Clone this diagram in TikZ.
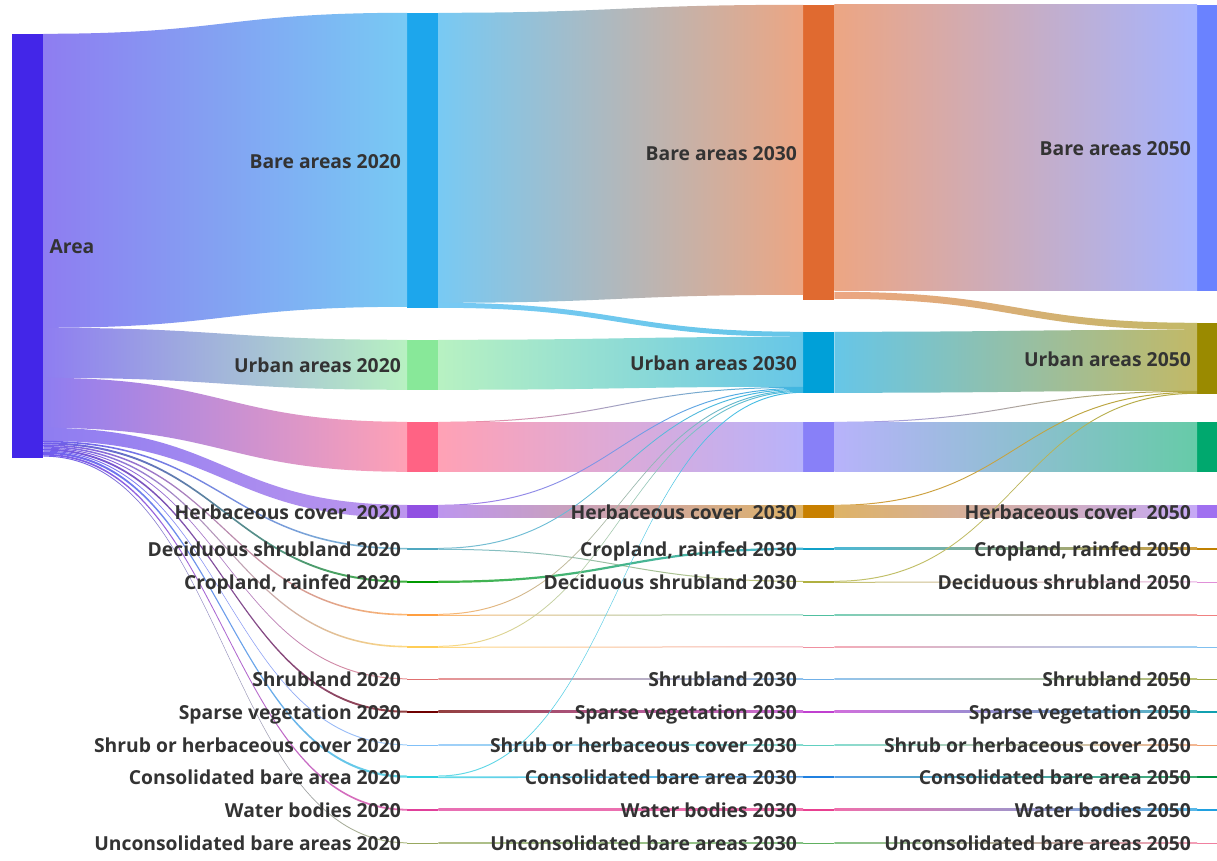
\documentclass[tikz,border=0pt]{standalone}
\usepackage{fontspec}
\setmainfont{Open Sans}
\usetikzlibrary{positioning,calc}

\definecolor{labelgray}{HTML}{333333}
\definecolor{cArea}{HTML}{4326E8}
\definecolor{cBare20}{HTML}{1DA6EC}
\definecolor{cUrb20}{HTML}{88E899}
\definecolor{cPnk20}{HTML}{FF6384}
\definecolor{cHrb20}{HTML}{9150E2}
\definecolor{cDec20}{HTML}{50A8C0}
\definecolor{cCrop20}{HTML}{009900}
\definecolor{cOrn20}{HTML}{FF9F40}
\definecolor{cYel20}{HTML}{FFCD56}
\definecolor{cShr20}{HTML}{E07070}
\definecolor{cSpa20}{HTML}{700000}
\definecolor{cShh20}{HTML}{80C0F8}
\definecolor{cCon20}{HTML}{30D0E0}
\definecolor{cWat20}{HTML}{E0409A}
\definecolor{cUnc20}{HTML}{98A860}
\definecolor{cBare30}{HTML}{E06A30}
\definecolor{cUrb30}{HTML}{00A0D8}
\definecolor{cVio30}{HTML}{8880F8}
\definecolor{cHrb30}{HTML}{C88000}
\definecolor{cCrop30}{HTML}{10A0C8}
\definecolor{cDec30}{HTML}{B0B040}
\definecolor{cTea30}{HTML}{50C0A0}
\definecolor{cRos30}{HTML}{F090A0}
\definecolor{cShr30}{HTML}{70B0E8}
\definecolor{cSpa30}{HTML}{C040D0}
\definecolor{cShh30}{HTML}{60D0C0}
\definecolor{cCon30}{HTML}{2080E0}
\definecolor{cWat30}{HTML}{E84090}
\definecolor{cUnc30}{HTML}{60B060}
\definecolor{cBare50}{HTML}{6A82FF}
\definecolor{cUrb50}{HTML}{9A8A00}
\definecolor{cGrn50}{HTML}{00A86E}
\definecolor{cHrb50}{HTML}{A070F0}
\definecolor{cCrop50}{HTML}{C08000}
\definecolor{cDec50}{HTML}{E090D8}
\definecolor{cSal50}{HTML}{F08080}
\definecolor{cSky50}{HTML}{80C0F0}
\definecolor{cShr50}{HTML}{A0A840}
\definecolor{cSpa50}{HTML}{10A0B0}
\definecolor{cShh50}{HTML}{F0A070}
\definecolor{cCon50}{HTML}{009040}
\definecolor{cWat50}{HTML}{20A0E0}
\definecolor{cUnc50}{HTML}{F080A0}

\tikzset{
  bar/.style={rectangle, inner sep=0pt, minimum width=31pt, anchor=west},
  endbar/.style={bar, minimum width=20pt},
  lbl/.style={font=\fontsize{19.3}{23}\selectfont\bfseries, text=labelgray, inner sep=0pt,
    text height=15.5pt, text depth=0pt},
}

% band from #2 (offset #3 below its top) to #4 (offset #5), width #6
\newcommand{\flowband}[8][60]{%
  \coordinate (fa) at ($(#2.north east)+(0,#3)$);
  \coordinate (fb) at ($(#4.north west)+(0,#5)$);
  \coordinate (fc) at ($(fb)+(0,#6)$);
  \coordinate (fd) at ($(fa)+(0,#6)$);
  \coordinate (fm) at ($(fa)!.5!(fb)$);
  \shade[left color=#7!#1!white, right color=#8!#1!white]
    (fa) .. controls (fm |- fa) and (fm |- fb) .. (fb)
    -- (fc) .. controls (fm |- fc) and (fm |- fd) .. (fd) -- cycle;
}

\begin{document}
\begin{tikzpicture}[x=1pt, y=-1pt]
\path[use as bounding box, fill=white] (0,0) rectangle (1217,861);

\path
  (12,246) node[bar, fill=cArea, minimum height=424pt] (area) {}
  (407,160.5) node[bar, fill=cBare20, minimum height=295pt] (bare20) {}
  (407,365) node[bar, fill=cUrb20, minimum height=50pt] (urb20) {}
  (407,447) node[bar, fill=cPnk20, minimum height=50pt] (pnk20) {}
  (407,511.5) node[bar, fill=cHrb20, minimum height=13pt] (hrb20) {}
  (407,549) node[bar, fill=cDec20, minimum height=2pt] (dec20) {}
  (407,582) node[bar, fill=cCrop20, minimum height=2.2pt] (crop20) {}
  (407,615) node[bar, fill=cOrn20, minimum height=2pt] (orn20) {}
  (407,647) node[bar, fill=cYel20, minimum height=2pt] (yel20) {}
  (407,679) node[bar, fill=cShr20, minimum height=1pt] (shr20) {}
  (407,712) node[bar, fill=cSpa20, minimum height=2.2pt] (spa20) {}
  (407,745) node[bar, fill=cShh20, minimum height=1pt] (shh20) {}
  (407,777) node[bar, fill=cCon20, minimum height=2.6pt] (con20) {}
  (407,810) node[bar, fill=cWat20, minimum height=2pt] (wat20) {}
  (407,843) node[bar, fill=cUnc20, minimum height=1pt] (unc20) {}
  (803,152.5) node[bar, fill=cBare30, minimum height=295pt] (bare30) {}
  (803,362.5) node[bar, fill=cUrb30, minimum height=61pt] (urb30) {}
  (803,447) node[bar, fill=cVio30, minimum height=50pt] (vio30) {}
  (803,511.5) node[bar, fill=cHrb30, minimum height=13pt] (hrb30) {}
  (803,549) node[bar, fill=cCrop30, minimum height=2.2pt] (crop30) {}
  (803,582) node[bar, fill=cDec30, minimum height=2pt] (dec30) {}
  (803,615) node[bar, fill=cTea30, minimum height=1pt] (tea30) {}
  (803,647) node[bar, fill=cRos30, minimum height=1pt] (ros30) {}
  (803,679) node[bar, fill=cShr30, minimum height=1pt] (shr30) {}
  (803,712) node[bar, fill=cSpa30, minimum height=2.2pt] (spa30) {}
  (803,745) node[bar, fill=cShh30, minimum height=1pt] (shh30) {}
  (803,777) node[bar, fill=cCon30, minimum height=1.6pt] (con30) {}
  (803,810) node[bar, fill=cWat30, minimum height=2pt] (wat30) {}
  (803,843) node[bar, fill=cUnc30, minimum height=1pt] (unc30) {}
  (1197,148) node[endbar, fill=cBare50, minimum height=286pt] (bare50) {}
  (1197,358.5) node[endbar, fill=cUrb50, minimum height=71pt] (urb50) {}
  (1197,447) node[endbar, fill=cGrn50, minimum height=50pt] (grn50) {}
  (1197,511.5) node[endbar, fill=cHrb50, minimum height=13pt] (hrb50) {}
  (1197,549) node[endbar, fill=cCrop50, minimum height=2.2pt] (crop50) {}
  (1197,582) node[endbar, fill=cDec50, minimum height=1pt] (dec50) {}
  (1197,615) node[endbar, fill=cSal50, minimum height=1pt] (sal50) {}
  (1197,647) node[endbar, fill=cSky50, minimum height=1pt] (sky50) {}
  (1197,679) node[endbar, fill=cShr50, minimum height=1pt] (shr50) {}
  (1197,712) node[endbar, fill=cSpa50, minimum height=2.2pt] (spa50) {}
  (1197,745) node[endbar, fill=cShh50, minimum height=1pt] (shh50) {}
  (1197,777) node[endbar, fill=cCon50, minimum height=1.6pt] (con50) {}
  (1197,810) node[endbar, fill=cWat50, minimum height=2pt] (wat50) {}
  (1197,843) node[endbar, fill=cUnc50, minimum height=1pt] (unc50) {}
  ;

% 2020
\flowband{area}{0}{bare20}{0}{294}{cArea}{cBare20}
\flowband{area}{294}{urb20}{0}{50}{cArea}{cUrb20}
\flowband{area}{344}{pnk20}{0}{50}{cArea}{cPnk20}
\flowband{area}{394}{hrb20}{0}{13}{cArea}{cHrb20}
\flowband[75]{area}{407}{dec20}{0}{1.6}{cArea}{cDec20}
\flowband[75]{area}{408.6}{crop20}{0}{2}{cArea}{cCrop20}
\flowband[75]{area}{410.6}{orn20}{0}{1.6}{cArea}{cOrn20}
\flowband[75]{area}{412.2}{yel20}{0}{1.6}{cArea}{cYel20}
\flowband[75]{area}{413.8}{shr20}{0}{1}{cArea}{cShr20}
\flowband[75]{area}{414.8}{spa20}{0}{2}{cArea}{cSpa20}
\flowband[75]{area}{416.8}{shh20}{0}{1}{cArea}{cShh20}
\flowband[75]{area}{417.8}{con20}{0}{2.2}{cArea}{cCon20}
\flowband[75]{area}{420}{wat20}{0}{1.8}{cArea}{cWat20}
\flowband[75]{area}{421.8}{unc20}{0}{1}{cArea}{cUnc20}

% 2030
\flowband{bare20}{0}{bare30}{0}{290}{cBare20}{cBare30}
\flowband{bare20}{290}{urb30}{0}{5}{cBare20}{cUrb30}
\flowband{urb20}{0}{urb30}{5}{50}{cUrb20}{cUrb30}
\flowband[75]{pnk20}{0}{urb30}{55}{1}{cPnk20}{cUrb30}
\flowband{pnk20}{1}{vio30}{1}{49}{cPnk20}{cVio30}
\flowband[75]{hrb20}{0}{urb30}{56}{1}{cHrb20}{cUrb30}
\flowband{hrb20}{1}{hrb30}{1}{12}{cHrb20}{cHrb30}
\flowband[75]{dec20}{0}{urb30}{57}{1}{cDec20}{cUrb30}
\flowband[75]{dec20}{1}{dec30}{0}{1}{cDec20}{cDec30}
\flowband[75]{crop20}{0}{crop30}{0}{2.2}{cCrop20}{cCrop30}
\flowband[75]{orn20}{0}{urb30}{58}{1}{cOrn20}{cUrb30}
\flowband[75]{orn20}{1}{tea30}{0}{1}{cOrn20}{cTea30}
\flowband[75]{yel20}{0}{urb30}{59}{1}{cYel20}{cUrb30}
\flowband[75]{yel20}{1}{ros30}{0}{1}{cYel20}{cRos30}
\flowband[75]{shr20}{0}{shr30}{0}{1}{cShr20}{cShr30}
\flowband[75]{spa20}{0}{spa30}{0}{2.2}{cSpa20}{cSpa30}
\flowband[75]{shh20}{0}{shh30}{0}{1}{cShh20}{cShh30}
\flowband[75]{con20}{0}{urb30}{60}{1}{cCon20}{cUrb30}
\flowband[75]{con20}{1}{con30}{0}{1.6}{cCon20}{cCon30}
\flowband[75]{wat20}{0}{wat30}{0}{2}{cWat20}{cWat30}
\flowband[75]{unc20}{0}{unc30}{0}{1}{cUnc20}{cUnc30}

% 2050
\flowband{bare30}{0}{bare50}{0}{286}{cBare30}{cBare50}
\flowband{bare30}{287}{urb50}{0}{7}{cBare30}{cUrb50}
\flowband{urb30}{0}{urb50}{7}{61}{cUrb30}{cUrb50}
\flowband[75]{vio30}{0}{urb50}{68}{1}{cVio30}{cUrb50}
\flowband{vio30}{1}{grn50}{1}{49}{cVio30}{cGrn50}
\flowband[75]{hrb30}{0}{urb50}{69}{1}{cHrb30}{cUrb50}
\flowband{hrb30}{1}{hrb50}{1}{12}{cHrb30}{cHrb50}
\flowband[75]{crop30}{0}{crop50}{0}{2.2}{cCrop30}{cCrop50}
\flowband[75]{dec30}{0}{urb50}{70}{1}{cDec30}{cUrb50}
\flowband[75]{dec30}{1}{dec50}{0}{1}{cDec30}{cDec50}
\flowband[75]{tea30}{0}{sal50}{0}{1}{cTea30}{cSal50}
\flowband[75]{ros30}{0}{sky50}{0}{1}{cRos30}{cSky50}
\flowband[75]{shr30}{0}{shr50}{0}{1}{cShr30}{cShr50}
\flowband[75]{spa30}{0}{spa50}{0}{2.2}{cSpa30}{cSpa50}
\flowband[75]{shh30}{0}{shh50}{0}{1}{cShh30}{cShh50}
\flowband[75]{con30}{0}{con50}{0}{1.6}{cCon30}{cCon50}
\flowband[75]{wat30}{0}{wat50}{0}{2}{cWat30}{cWat50}
\flowband[75]{unc30}{0}{unc50}{0}{1}{cUnc30}{cUnc50}

\node[lbl, right=6pt of area] {Area};
\node[lbl, left=6pt of bare20] {Bare areas 2020};
\node[lbl, left=6pt of urb20] {Urban areas 2020};
\node[lbl, left=6pt of hrb20] {Herbaceous cover~ 2020};
\node[lbl, left=6pt of dec20] {Deciduous shrubland 2020};
\node[lbl, left=6pt of crop20] {Cropland, rainfed 2020};
\node[lbl, left=6pt of shr20] {Shrubland 2020};
\node[lbl, left=6pt of spa20] {Sparse vegetation 2020};
\node[lbl, left=6pt of shh20] {Shrub or herbaceous cover 2020};
\node[lbl, left=6pt of con20] {Consolidated bare area 2020};
\node[lbl, left=6pt of wat20] {Water bodies 2020};
\node[lbl, left=6pt of unc20] {Unconsolidated bare areas 2020};
\node[lbl, left=6pt of bare30] {Bare areas 2030};
\node[lbl, left=6pt of urb30] {Urban areas 2030};
\node[lbl, left=6pt of hrb30] {Herbaceous cover~ 2030};
\node[lbl, left=6pt of crop30] {Cropland, rainfed 2030};
\node[lbl, left=6pt of dec30] {Deciduous shrubland 2030};
\node[lbl, left=6pt of shr30] {Shrubland 2030};
\node[lbl, left=6pt of spa30] {Sparse vegetation 2030};
\node[lbl, left=6pt of shh30] {Shrub or herbaceous cover 2030};
\node[lbl, left=6pt of con30] {Consolidated bare area 2030};
\node[lbl, left=6pt of wat30] {Water bodies 2030};
\node[lbl, left=6pt of unc30] {Unconsolidated bare areas 2030};
\node[lbl, left=6pt of bare50] {Bare areas 2050};
\node[lbl, left=6pt of urb50] {Urban areas 2050};
\node[lbl, left=6pt of hrb50] {Herbaceous cover~ 2050};
\node[lbl, left=6pt of crop50] {Cropland, rainfed 2050};
\node[lbl, left=6pt of dec50] {Deciduous shrubland 2050};
\node[lbl, left=6pt of shr50] {Shrubland 2050};
\node[lbl, left=6pt of spa50] {Sparse vegetation 2050};
\node[lbl, left=6pt of shh50] {Shrub or herbaceous cover 2050};
\node[lbl, left=6pt of con50] {Consolidated bare area 2050};
\node[lbl, left=6pt of wat50] {Water bodies 2050};
\node[lbl, left=6pt of unc50] {Unconsolidated bare areas 2050};
\end{tikzpicture}
\end{document}
